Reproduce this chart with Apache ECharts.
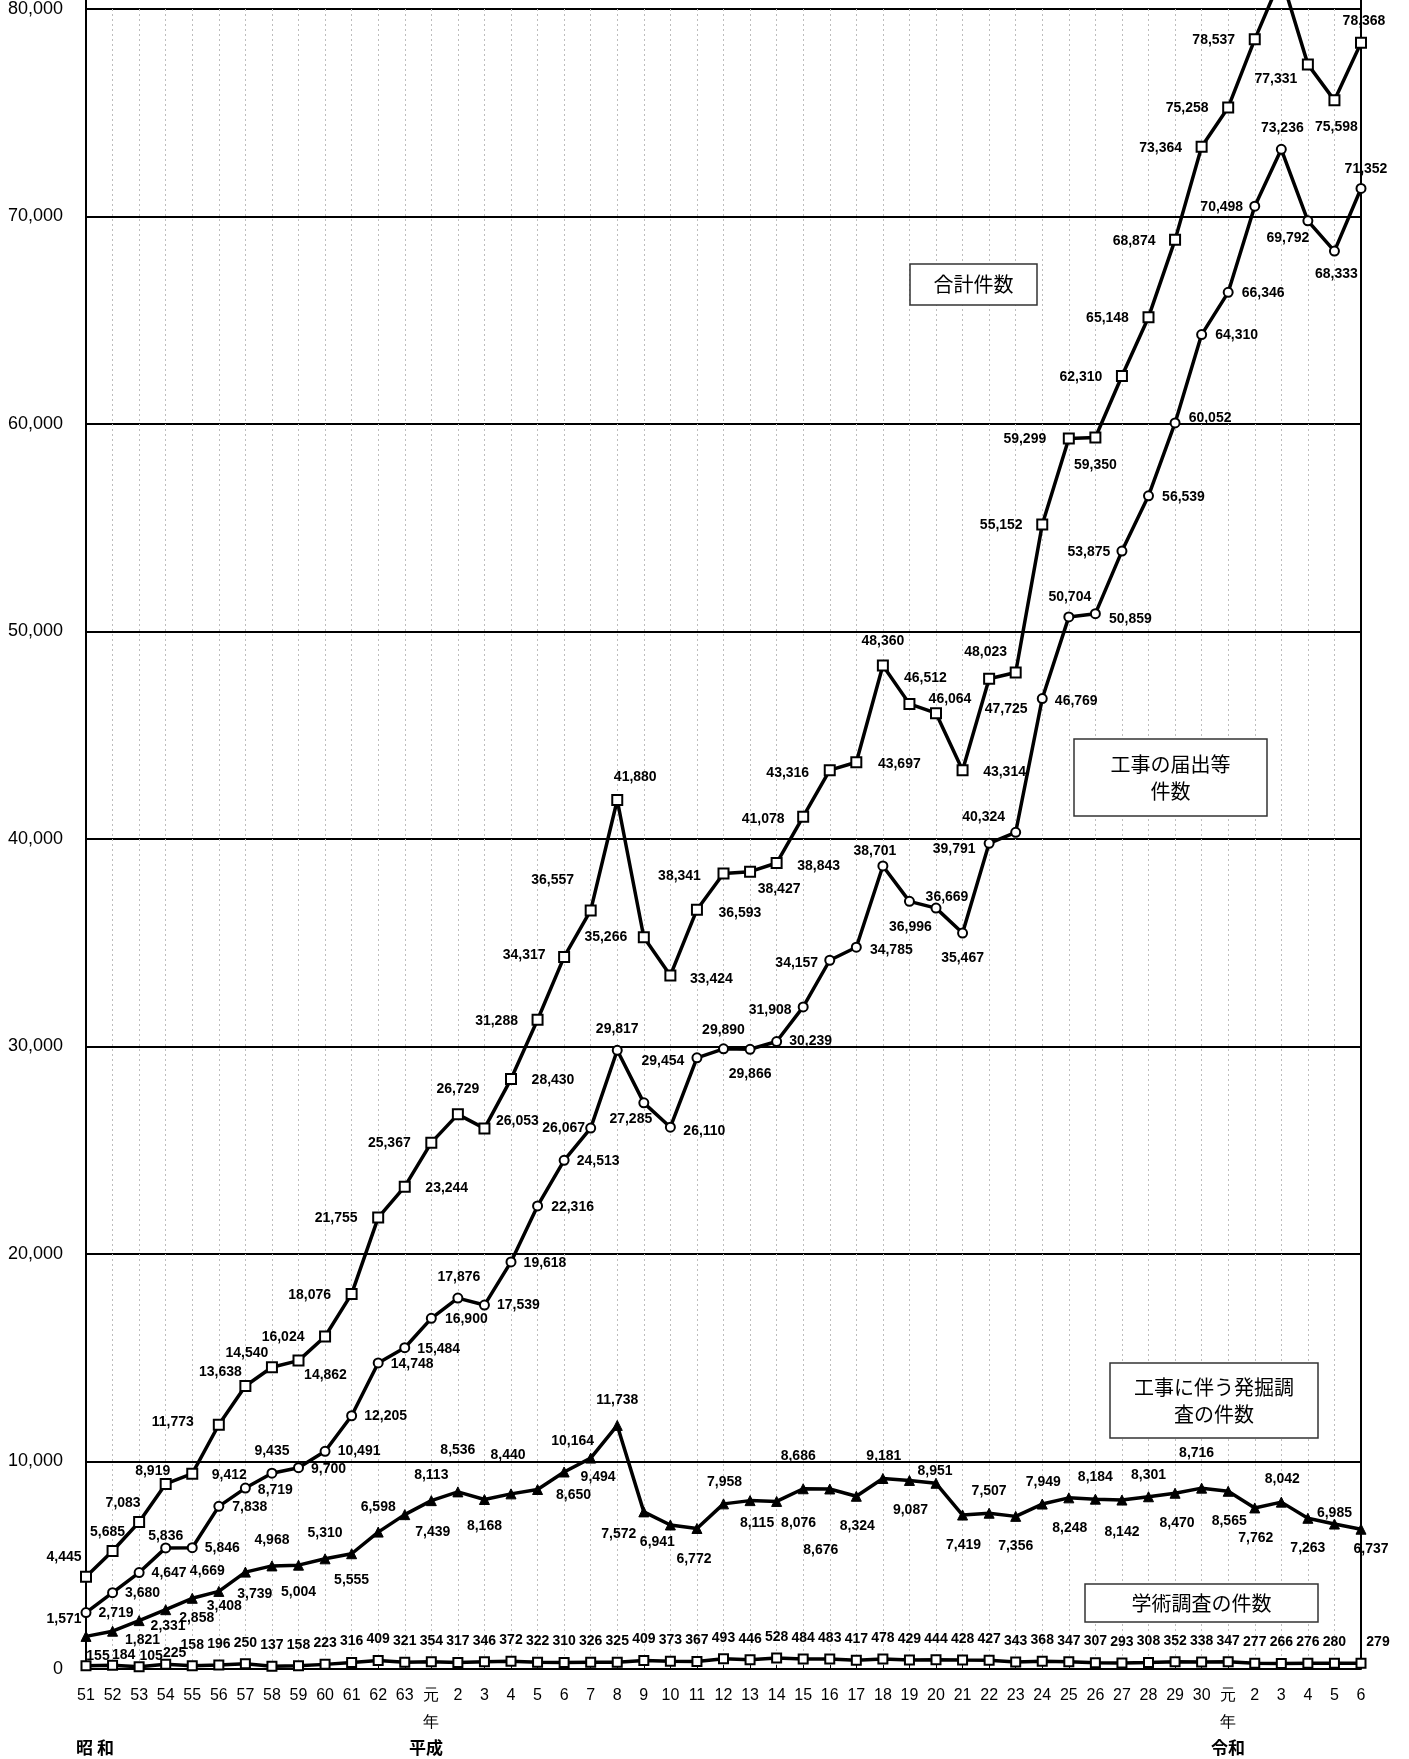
<!DOCTYPE html>
<html><head><meta charset="utf-8">
<script src="https://cdn.jsdelivr.net/npm/echarts@6/dist/echarts.min.js"></script>
<style>html,body{margin:0;padding:0;background:#fff}#c{width:1409px;height:1759px}</style>
</head><body><div id="c"></div>
<script>
// ---- data ----
const categories = ['51','52','53','54','55','56','57','58','59','60','61','62','63',
  '元年','2','3','4','5','6','7','8','9','10','11','12','13','14','15','16','17','18','19','20','21','22','23','24','25','26','27','28','29','30',
  '元年','2','3','4','5','6'];
const yTicks = [0,10000,20000,30000,40000,50000,60000,70000,80000];
const totalCount = [4445,5685,7083,8919,9412,11773,13638,14540,14862,16024,18076,21755,23244,
  25367,26729,26053,28430,31288,34317,36557,41880,35266,33424,36593,38341,38427,38843,41078,43316,43697,48360,46512,46064,43314,47725,48023,55152,59299,59350,62310,65148,68874,73364,
  75258,78537,81544,77331,75598,78368];
const notifyCount = [2719,3680,4647,5836,5846,7838,8719,9435,9700,10491,12205,14748,15484,
  16900,17876,17539,19618,22316,24513,26067,29817,27285,26110,29454,29890,29866,30239,31908,34157,34785,38701,36996,36669,35467,39791,40324,46769,50704,50859,53875,56539,60052,64310,
  66346,70498,73236,69792,68333,71352];
const excavCount = [1571,1821,2331,2858,3408,3739,4669,4968,5004,5310,5555,6598,7439,
  8113,8536,8168,8440,8650,9494,10164,11738,7572,6941,6772,7958,8115,8076,8686,8676,8324,9181,9087,8951,7419,7507,7356,7949,8248,8184,8142,8301,8470,8716,
  8565,7762,8042,7263,6985,6737];
const academicCount = [155,184,105,225,158,196,250,137,158,223,316,409,321,
  354,317,346,372,322,310,326,325,409,373,367,493,446,528,484,483,417,478,429,444,428,427,343,368,347,307,293,308,352,338,
  347,277,266,276,280,279];
const eraLabels = ['昭 和','平成','令和'];
const boxTexts = ['合計件数','工事の届出等\n件数','工事に伴う発掘調\n査の件数','学術調査の件数'];

// ---- label placement (offset of label centre from the point, px) ----
const totalOff = [[-22,-20],[-5,-19],[-16,-19],[-13,-13],[37,1],[-46,-3],[-25,-14],[-25,-14],[27,15],[-42,1],[-42,1],[-42,1],[42,1],
  [-42,1],[0,-25],[33,-7],[42,1],[-41,1],[-40,-2],[-38,-30],[18,-23],[-38,0],[41,4],[43,3],[-44,3],[29,18],[42,3],[-40,3],[-42,3],[43,2],[0,-24],[16,-26],[14,-14],[42,2],[17,30],[-30,-20],[-41,1],[-44,1],[0,28],[-41,1],[-41,1],[-41,1],[-41,1],
  [-41,1],[-41,1],null,[-32,15],[2,27],[3,-22]];
const notifyOff = [[30,1],[30,1],[30,1],[0,-12],[30,0],[31,1],[30,2],[0,-22],[30,1],[34,0],[34,0],[34,1],[34,1],
  [35,1],[1,-21],[34,0],[34,1],[35,1],[34,1],[-27,0],[0,-21],[-13,16],[34,4],[-34,3],[0,-19],[0,25],[34,0],[-33,3],[-33,3],[35,3],[-8,-15],[1,26],[11,-11],[0,25],[-35,6],[-32,-15],[34,3],[1,-20],[35,5],[-33,1],[35,1],[35,-5],[35,1],
  [35,1],[-33,1],[1,-21],[-20,17],[2,23],[5,-19]];
const excavOff = [[-22,-17],[30,9],[29,6],[31,8],[32,8],[36,3],[-38,-1],[0,-26],[0,27],[0,-26],[0,26],[0,-25],[28,17],
  [0,-26],[0,-42],[0,27],[-3,-39],[36,6],[34,5],[-18,-17],[0,-25],[-25,22],[-13,17],[-3,31],[1,-22],[7,23],[22,22],[-5,-33],[-9,61],[1,30],[1,-22],[1,30],[-1,-12],[1,30],[0,-22],[0,30],[1,-22],[1,30],[0,-22],[0,32],[0,-22],[2,30],[-5,-35],
  [1,30],[1,30],[1,-23],[0,30],[0,-11],[10,20]];
const academicOffSpecial = {0:[12,-10],1:[11,-10],2:[12,-11],3:[9,-11],48:[17,-21]};

function fmt(v){ return v.toLocaleString('en-US'); }
function withLabels(vals, offs, defOff){
  return vals.map((v,i)=>{
    const o = offs ? offs[i] : (academicOffSpecial[i] || defOff);
    if (!o) return {value:v, label:{show:false}};
    return {value:v, label:{offset:o}};
  });
}
const labelBase = {show:true, position:'inside', align:'center', verticalAlign:'middle',
  color:'#000', fontWeight:'bold', fontSize:14, fontFamily:'Liberation Sans, Arial, sans-serif',
  formatter: p => fmt(p.value)};

const chart = echarts.init(document.getElementById('c'), null, {renderer:'canvas'});
const L = 86, R = 1361, T = 9, B = 1669;

function box(x1,y1,x2,y2,txt){
  return {type:'group', children:[
    {type:'rect', shape:{x:x1,y:y1,width:x2-x1,height:y2-y1}, style:{fill:'#fff', stroke:'#333', lineWidth:1.5}, z:50},
    {type:'text', x:(x1+x2)/2, y:(y1+y2)/2, z:51,
      style:{text:txt, fill:'#000', font:'20px "Noto Sans CJK JP"', align:'center', verticalAlign:'middle', lineHeight:27}}
  ]};
}

const option = {
  animation:false,
  backgroundColor:'#fff',
  grid:{left:L, right:1409-R, top:T, bottom:1759-B, containLabel:false},
  xAxis:{type:'category', data:categories, boundaryGap:false,
    axisLine:{lineStyle:{color:'#000', width:2}},
    axisTick:{show:true, inside:true, length:4, lineStyle:{color:'#000', width:1}},
    axisLabel:{interval:0, color:'#000', fontSize:16, fontFamily:'Liberation Sans, Arial, sans-serif', margin:13, lineHeight:27,
      formatter: v => v==='元年' ? '元\n年' : v},
    splitLine:{show:true, lineStyle:{color:'#bdbdbd', type:[2,3], width:1}}
  },
  yAxis:{type:'value', min:yTicks[0], max:yTicks[yTicks.length-1], interval:yTicks[1]-yTicks[0],
    axisLine:{show:true, lineStyle:{color:'#000', width:2}},
    axisTick:{show:false},
    axisLabel:{color:'#000', fontSize:18, margin:23, fontFamily:'Liberation Sans, Arial, sans-serif', formatter: v => fmt(v)},
    splitLine:{show:true, lineStyle:{color:'#000', width:2}}
  },
  series:[
    {name:'学術調査の件数', type:'line', data:withLabels(academicCount, null, [0,-21]), z:3,
      symbol:'rect', symbolSize:9, lineStyle:{color:'#000', width:3.5},
      itemStyle:{color:'#fff', borderColor:'#000', borderWidth:2}, label:labelBase},
    {name:'工事に伴う発掘調査の件数', type:'line', data:withLabels(excavCount, excavOff), z:4,
      symbol:'triangle', symbolSize:10, lineStyle:{color:'#000', width:3.5},
      itemStyle:{color:'#000', borderColor:'#000', borderWidth:1}, label:labelBase},
    {name:'工事の届出等件数', type:'line', data:withLabels(notifyCount, notifyOff), z:5,
      symbol:'circle', symbolSize:9, lineStyle:{color:'#000', width:3.5},
      itemStyle:{color:'#fff', borderColor:'#000', borderWidth:2}, label:labelBase},
    {name:'合計件数', type:'line', data:withLabels(totalCount, totalOff), z:6, clip:false,
      symbol:'rect', symbolSize:10, lineStyle:{color:'#000', width:3.5},
      itemStyle:{color:'#fff', borderColor:'#000', borderWidth:2}, label:labelBase}
  ],
  graphic:[
    {type:'line', shape:{x1:R, y1:0, x2:R, y2:B}, style:{stroke:'#000', lineWidth:2}, z:1},
    {type:'line', shape:{x1:L, y1:0, x2:L, y2:T}, style:{stroke:'#000', lineWidth:2}, z:1},
    box(910,264,1037,305,boxTexts[0]),
    box(1074,739,1267,816,boxTexts[1]),
    box(1110,1363,1318,1438,boxTexts[2]),
    box(1085,1584,1318,1622,boxTexts[3]),
    {type:'text', x:95, y:1748, style:{text:eraLabels[0], fill:'#000', font:'bold 17px "Noto Sans CJK JP"', align:'center', verticalAlign:'middle'}},
    {type:'text', x:426, y:1748, style:{text:eraLabels[1], fill:'#000', font:'bold 17px "Noto Sans CJK JP"', align:'center', verticalAlign:'middle'}},
    {type:'text', x:1228, y:1748, style:{text:eraLabels[2], fill:'#000', font:'bold 17px "Noto Sans CJK JP"', align:'center', verticalAlign:'middle'}}
  ]
};
chart.setOption(option);
</script>
</body></html>
